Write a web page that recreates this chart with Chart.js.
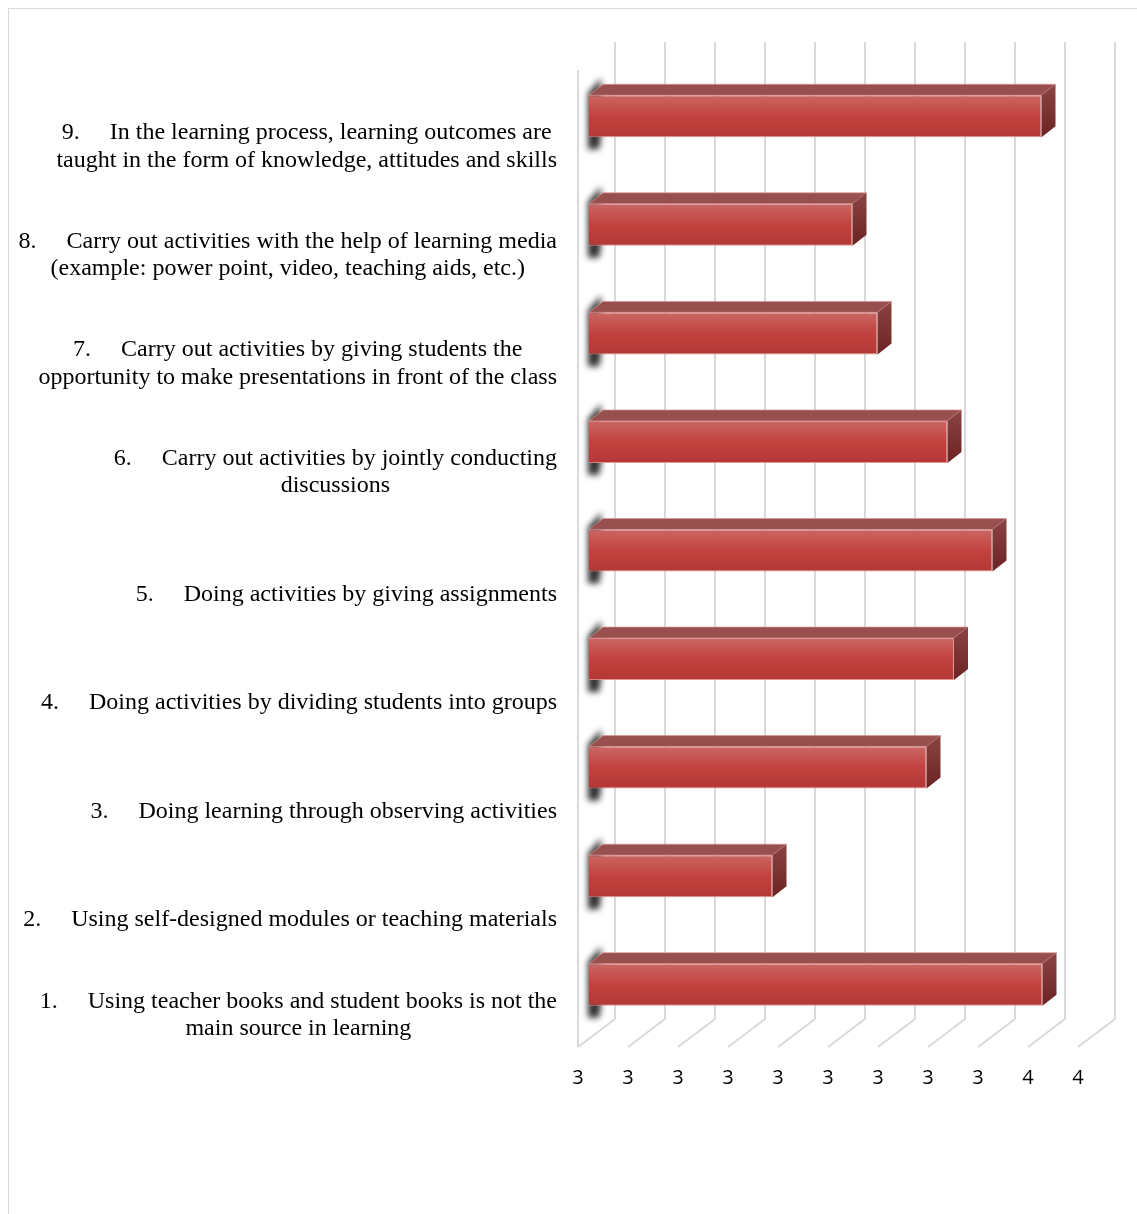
<!DOCTYPE html>
<html>
<head>
<meta charset="utf-8">
<script src="https://cdn.jsdelivr.net/npm/chart.js@4.4.1/dist/chart.umd.min.js"></script>
<style>
  html, body { margin: 0; padding: 0; background: #fff; }
  #frame { position: absolute; left: 8px; top: 8px; width: 1200px; height: 1300px; border: 1px solid #d9d9d9; }
  #wrap { position: absolute; left: 0; top: 0; width: 1137px; height: 1214px; }
</style>
</head>
<body>
<div id="frame"></div>
<div id="wrap"><canvas id="grafico" width="1137" height="1214"></canvas></div>
<script>
// numbered statements, bottom (1) to top (9)
const itemNumbers = ['1.', '2.', '3.', '4.', '5.', '6.', '7.', '8.', '9.'];
const itemLines = [
  ['Using teacher books and student books is not the', 'main source in learning'],
  ['Using self-designed modules or teaching materials'],
  ['Doing learning through observing activities'],
  ['Doing activities by dividing students into groups'],
  ['Doing activities by giving assignments'],
  ['Carry out activities by jointly conducting', 'discussions'],
  ['Carry out activities by giving students the', 'opportunity to make presentations in front of the class'],
  ['Carry out activities with the help of learning media', '(example: power point, video, teaching aids, etc.)'],
  ['In the learning process, learning outcomes are', 'taught in the form of knowledge, attitudes and skills']
];
const scores = [3.507, 2.967, 3.275, 3.330, 3.407, 3.317, 3.177, 3.127, 3.505];
const tickLabels = ['3', '3', '3', '3', '3', '3', '3', '3', '3', '4', '4'];
const axisMin = 2.6;
const axisMax = 3.6;
const axisStep = 0.1;

// 3D offsets relative to the bar front face plane
const FRONT = { dx: -11, dy: 8 };
const BACK = { dx: 26, dy: -20 };
const DEPTH = { dx: 14, dy: -11 };
const GRID_COLOR = '#d9d9d9';

function gradienteFrente(context) {
  const chart = context.chart;
  const y = chart.scales && chart.scales.y;
  if (!y || !chart.chartArea) return '#c0413e';
  const cy = y.getPixelForValue(context.dataIndex);
  const g = chart.ctx.createLinearGradient(0, cy - 21, 0, cy + 21);
  g.addColorStop(0, '#ca6763');
  g.addColorStop(0.5, '#c2423f');
  g.addColorStop(1, '#b33835');
  return g;
}

const cenario3d = {
  id: 'cenario3d',
  beforeDatasetsDraw(chart) {
    const ctx = chart.ctx;
    const x = chart.scales.x;
    const area = chart.chartArea;
    ctx.save();
    ctx.strokeStyle = GRID_COLOR;
    ctx.lineWidth = 2;
    x.ticks.forEach(t => {
      const px = x.getPixelForValue(t.value);
      // back wall line
      ctx.beginPath();
      ctx.moveTo(px + BACK.dx, area.top + BACK.dy);
      ctx.lineTo(px + BACK.dx, area.bottom + BACK.dy);
      ctx.stroke();
      // floor diagonal
      ctx.beginPath();
      ctx.moveTo(px + FRONT.dx, area.bottom + FRONT.dy);
      ctx.lineTo(px + BACK.dx, area.bottom + BACK.dy);
      ctx.stroke();
    });
    // front left edge
    const x0 = x.getPixelForValue(axisMin);
    ctx.beginPath();
    ctx.moveTo(x0 + FRONT.dx, area.top + FRONT.dy);
    ctx.lineTo(x0 + FRONT.dx, area.bottom + FRONT.dy);
    ctx.stroke();

    // soft shadow at the left end of every bar
    const meta = chart.getDatasetMeta(0);
    meta.data.forEach(bar => {
      const base = Math.max(bar.base, area.left);
      const top = bar.y - bar.height / 2;
      const bottom = bar.y + bar.height / 2;
      ctx.save();
      ctx.filter = 'blur(3px)';
      ctx.fillStyle = 'rgba(25,25,25,0.9)';
      ctx.beginPath();
      ctx.moveTo(base - 1, top - 2);
      ctx.lineTo(base + DEPTH.dx - 2, top + DEPTH.dy - 6);
      ctx.lineTo(base + DEPTH.dx - 2, bottom);
      ctx.lineTo(base + 10, bottom + 12);
      ctx.lineTo(base - 1, bottom + 12);
      ctx.closePath();
      ctx.fill();
      ctx.restore();
    });
    ctx.restore();
  },
  afterDatasetsDraw(chart) {
    const ctx = chart.ctx;
    const area = chart.chartArea;
    const meta = chart.getDatasetMeta(0);
    ctx.save();
    meta.data.forEach(bar => {
      const base = Math.max(bar.base, area.left);
      const top = bar.y - bar.height / 2;
      const bottom = bar.y + bar.height / 2;
      // top face
      ctx.fillStyle = '#98504e';
      ctx.beginPath();
      ctx.moveTo(base, top);
      ctx.lineTo(bar.x, top);
      ctx.lineTo(bar.x + DEPTH.dx, top + DEPTH.dy);
      ctx.lineTo(base + DEPTH.dx, top + DEPTH.dy);
      ctx.closePath();
      ctx.fill();
      ctx.strokeStyle = 'rgba(220,150,150,0.7)';
      ctx.lineWidth = 1;
      ctx.stroke();
      // right face
      const g = ctx.createLinearGradient(0, top + DEPTH.dy, 0, bottom);
      g.addColorStop(0, '#8c4443');
      g.addColorStop(1, '#6c2323');
      ctx.fillStyle = g;
      ctx.beginPath();
      ctx.moveTo(bar.x, top);
      ctx.lineTo(bar.x + DEPTH.dx, top + DEPTH.dy);
      ctx.lineTo(bar.x + DEPTH.dx, bottom + DEPTH.dy);
      ctx.lineTo(bar.x, bottom);
      ctx.closePath();
      ctx.fill();
    });
    ctx.restore();
  },
  afterDraw(chart) {
    // category labels: block right-aligned, lines centred inside the block
    const ctx = chart.ctx;
    const y = chart.scales.y;
    const rightEdge = 557;
    const gap = 30;
    const lineH = 27.5;
    ctx.save();
    ctx.font = '24px "Liberation Serif", "Times New Roman", serif';
    ctx.fillStyle = '#000';
    ctx.textBaseline = 'middle';
    itemLines.forEach((lines, i) => {
      const num = itemNumbers[i];
      const numW = ctx.measureText(num).width;
      const widths = lines.map((l, j) => ctx.measureText(l).width + (j === 0 ? numW + gap : 0));
      const blockW = Math.max(...widths);
      const cx = rightEdge - blockW / 2;
      const cy = y.getPixelForValue(i);
      const lastY = cy + 44;
      lines.forEach((l, j) => {
        const ly = lastY - (lines.length - 1 - j) * lineH;
        const left = cx - widths[j] / 2;
        ctx.textAlign = 'left';
        if (j === 0) {
          ctx.fillText(num, left, ly);
          ctx.fillText(l, left + numW + gap, ly);
        } else {
          ctx.fillText(l, left, ly);
        }
      });
    });
    ctx.restore();
  }
};

const chart = new Chart(document.getElementById('grafico').getContext('2d'), {
  type: 'bar',
  data: {
    labels: itemNumbers,
    datasets: [{
      data: scores,
      base: axisMin,
      backgroundColor: gradienteFrente,
      borderColor: 'rgba(225,140,138,0.9)',
      borderWidth: 1,
      barPercentage: 0.387,
      categoryPercentage: 1
    }]
  },
  options: {
    indexAxis: 'y',
    responsive: false,
    animation: false,
    layout: { padding: { top: 62, right: 48, left: 0, bottom: 0 } },
    plugins: { legend: { display: false }, tooltip: { enabled: false } },
    scales: {
      x: {
        min: axisMin,
        max: axisMax,
        grid: { display: false },
        border: { display: false },
        ticks: {
          stepSize: axisStep,
          autoSkip: false,
          maxRotation: 0,
          labelOffset: -11,
          padding: 19,
          color: '#000',
          font: { family: '"Open Sans", sans-serif', size: 20 },
          callback: (v, i) => tickLabels[i]
        },
        afterFit: s => { s.height = 175; }
      },
      y: {
        reverse: true,
        grid: { display: false },
        border: { display: false },
        ticks: { display: false },
        afterFit: s => { s.width = 589; }
      }
    }
  },
  plugins: [cenario3d]
});
</script>
</body>
</html>
